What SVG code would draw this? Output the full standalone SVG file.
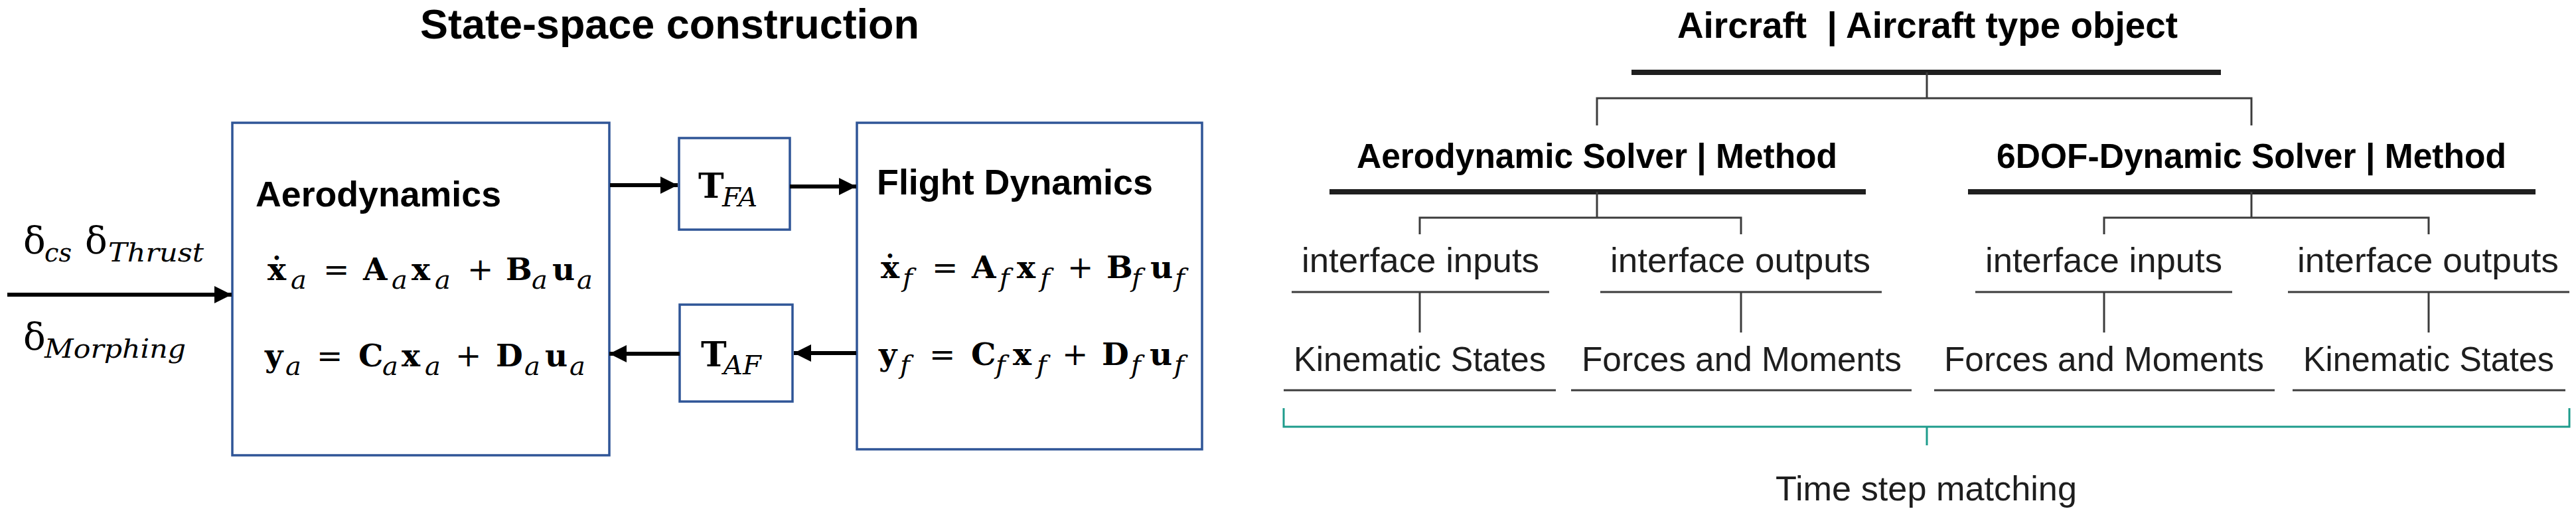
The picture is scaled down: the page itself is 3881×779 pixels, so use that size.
<svg xmlns="http://www.w3.org/2000/svg" width="3881" height="779" viewBox="0 0 3881 779">
<style>
.bg{fill:#ffffff}
.box{fill:#ffffff;stroke:#2F5597;stroke-width:3.5}
.arr{stroke:#000;stroke-width:6;fill:none;marker-end:url(#ah)}
.hb{font-family:"Liberation Sans",Arial,sans-serif;font-weight:bold;fill:#000}
.lab{font-family:"Liberation Sans",Arial,sans-serif;font-size:52px;fill:#1e1e1e}
.m{font-family:"DejaVu Serif","Liberation Serif",serif;font-weight:bold;font-size:47px;fill:#000}
.m .s{font-weight:normal;font-style:italic;font-size:40px}
.m .op{font-weight:normal;font-size:47px}
.tk{stroke:#1f1f1f;stroke-width:8;fill:none}
.tn{stroke:#3c3c3c;stroke-width:3;fill:none}
.gr{stroke:#1E9C8C;stroke-width:3;fill:none}
.dl{font-family:"DejaVu Serif","Liberation Serif",serif;font-size:56px;fill:#000}
.ds{font-family:"DejaVu Serif","Liberation Serif",serif;font-style:italic;font-size:40px;fill:#000}
</style>
<defs>
<marker id="ah" markerUnits="userSpaceOnUse" markerWidth="26" markerHeight="26" refX="26" refY="13" orient="auto">
<path d="M0,0 L26,13 L0,26 Z" fill="#000"/>
</marker>
</defs>
<rect class="bg" x="0" y="0" width="3881" height="779"/>

<text class="hb" x="633" y="58" font-size="63" textLength="752" lengthAdjust="spacingAndGlyphs">State-space construction</text>

<g id="inputs">
<text class="dl" x="35" y="382">δ</text>
<text class="ds" x="67" y="394" textLength="41" lengthAdjust="spacingAndGlyphs">cs</text>
<text class="dl" x="128" y="382">δ</text>
<text class="ds" x="163" y="394" textLength="144" lengthAdjust="spacingAndGlyphs">Thrust</text>
<text class="dl" x="35" y="527">δ</text>
<text class="ds" x="67" y="539" textLength="213" lengthAdjust="spacingAndGlyphs">Morphing</text>
</g>

<g id="aerodynamics">
<rect class="box" x="350" y="185" width="568" height="501"/>
<text class="hb" x="385" y="311" font-size="54" textLength="370" lengthAdjust="spacingAndGlyphs">Aerodynamics</text>
<text class="m"><tspan x="403" y="422">ẋ</tspan><tspan class="s" x="438" y="435">a</tspan><tspan class="op" x="487" y="422">=</tspan><tspan x="547" y="422">A</tspan><tspan class="s" x="590" y="435">a</tspan><tspan x="620" y="422">x</tspan><tspan class="s" x="655" y="435">a</tspan><tspan class="op" x="704" y="422">+</tspan><tspan x="762" y="422">B</tspan><tspan class="s" x="801" y="435">a</tspan><tspan x="832" y="422">u</tspan><tspan class="s" x="869" y="435">a</tspan></text>
<text class="m"><tspan x="399" y="552">y</tspan><tspan class="s" x="430" y="565">a</tspan><tspan class="op" x="477" y="552">=</tspan><tspan x="540" y="552">C</tspan><tspan class="s" x="576" y="565">a</tspan><tspan x="605" y="552">x</tspan><tspan class="s" x="640" y="565">a</tspan><tspan class="op" x="686" y="552">+</tspan><tspan x="747" y="552">D</tspan><tspan class="s" x="790" y="565">a</tspan><tspan x="821" y="552">u</tspan><tspan class="s" x="858" y="565">a</tspan></text>
</g>

<g id="T_FA">
<rect class="box" x="1023" y="208" width="167" height="138"/>
<text class="m" style="font-size:52px"><tspan x="1052" y="298">T</tspan><tspan class="s" x="1088" y="311" style="font-size:40px">FA</tspan></text>
</g>

<g id="T_AF">
<rect class="box" x="1024" y="459" width="170" height="146"/>
<text class="m" style="font-size:52px"><tspan x="1056" y="552">T</tspan><tspan class="s" x="1090" y="564" style="font-size:40px">AF</tspan></text>
</g>

<g id="flight_dynamics">
<rect class="box" x="1291" y="185" width="520" height="492"/>
<text class="hb" x="1321" y="293" font-size="54" textLength="416" lengthAdjust="spacingAndGlyphs">Flight Dynamics</text>
<text class="m"><tspan x="1327" y="419">ẋ</tspan><tspan class="s" x="1360" y="432">f</tspan><tspan class="op" x="1404" y="419">=</tspan><tspan x="1464" y="419">A</tspan><tspan class="s" x="1506" y="432">f</tspan><tspan x="1532" y="419">x</tspan><tspan class="s" x="1567" y="432">f</tspan><tspan class="op" x="1608" y="419">+</tspan><tspan x="1667" y="419">B</tspan><tspan class="s" x="1705" y="432">f</tspan><tspan x="1733" y="419">u</tspan><tspan class="s" x="1770" y="432">f</tspan></text>
<text class="m"><tspan x="1324" y="550">y</tspan><tspan class="s" x="1356" y="563">f</tspan><tspan class="op" x="1400" y="550">=</tspan><tspan x="1463" y="550">C</tspan><tspan class="s" x="1500" y="563">f</tspan><tspan x="1526" y="550">x</tspan><tspan class="s" x="1562" y="563">f</tspan><tspan class="op" x="1600" y="550">+</tspan><tspan x="1660" y="550">D</tspan><tspan class="s" x="1704" y="563">f</tspan><tspan x="1732" y="550">u</tspan><tspan class="s" x="1769" y="563">f</tspan></text>
</g>

<g id="connectors">
<line class="arr" x1="11" y1="444" x2="349" y2="444"/>
<line class="arr" x1="919" y1="279" x2="1021" y2="279"/>
<line class="arr" x1="1190" y1="281" x2="1290" y2="281"/>
<line class="arr" x1="1290" y1="532" x2="1196" y2="532"/>
<line class="arr" x1="1024" y1="533" x2="918" y2="533"/>
</g>

<g id="aircraft">
<text class="hb" x="2527" y="57" font-size="55" textLength="754" lengthAdjust="spacingAndGlyphs" xml:space="preserve">Aircraft  | Aircraft type object</text>
<line class="tk" x1="2458" y1="109" x2="3346" y2="109"/>
</g>

<g id="aero_solver">
<text class="hb" x="2044" y="253" font-size="51" textLength="724" lengthAdjust="spacingAndGlyphs">Aerodynamic Solver | Method</text>
<line class="tk" x1="2003" y1="289" x2="2811" y2="289"/>
</g>

<g id="dof_solver">
<text class="hb" x="3008" y="253" font-size="51" textLength="768" lengthAdjust="spacingAndGlyphs">6DOF-Dynamic Solver | Method</text>
<line class="tk" x1="2965" y1="289" x2="3820" y2="289"/>
</g>

<g id="aero_inputs">
<text class="lab" x="1961" y="410" textLength="358" lengthAdjust="spacingAndGlyphs">interface inputs</text>
<line class="tn" x1="1946" y1="440" x2="2334" y2="440"/>
</g>
<g id="aero_outputs">
<text class="lab" x="2426" y="410" textLength="392" lengthAdjust="spacingAndGlyphs">interface outputs</text>
<line class="tn" x1="2411" y1="440" x2="2835" y2="440"/>
</g>
<g id="aero_kin">
<text class="lab" x="1949" y="559" textLength="380" lengthAdjust="spacingAndGlyphs">Kinematic States</text>
<line class="tn" x1="1934" y1="588" x2="2344" y2="588"/>
</g>
<g id="aero_fm">
<text class="lab" x="2383" y="559" textLength="482" lengthAdjust="spacingAndGlyphs">Forces and Moments</text>
<line class="tn" x1="2367" y1="588" x2="2880" y2="588"/>
</g>
<g id="dof_inputs">
<text class="lab" x="2991" y="410" textLength="357" lengthAdjust="spacingAndGlyphs">interface inputs</text>
<line class="tn" x1="2976" y1="440" x2="3363" y2="440"/>
</g>
<g id="dof_outputs">
<text class="lab" x="3461" y="410" textLength="394" lengthAdjust="spacingAndGlyphs">interface outputs</text>
<line class="tn" x1="3447" y1="440" x2="3871" y2="440"/>
</g>
<g id="dof_fm">
<text class="lab" x="2929" y="559" textLength="482" lengthAdjust="spacingAndGlyphs">Forces and Moments</text>
<line class="tn" x1="2914" y1="588" x2="3427" y2="588"/>
</g>
<g id="dof_kin">
<text class="lab" x="3470" y="559" textLength="378" lengthAdjust="spacingAndGlyphs">Kinematic States</text>
<line class="tn" x1="3454" y1="588" x2="3865" y2="588"/>
</g>

<g id="tree_connectors">
<path class="tn" d="M2903,109 V148 M2406,189 V148 H3392 V189"/>
<path class="tn" d="M2406,289 V328 M2139,353 V328 H2623 V353"/>
<path class="tn" d="M3392,289 V328 M3170,353 V328 H3659 V353"/>
<path class="tn" d="M2139,440 V501 M2623,440 V501 M3170,440 V501 M3659,440 V501"/>
<path class="gr" d="M1934,615 V643 H3871 V615 M2903,643 V671"/>
</g>

<g id="time_step">
<text class="lab" x="2675" y="754" textLength="454" lengthAdjust="spacingAndGlyphs">Time step matching</text>
</g>
</svg>
